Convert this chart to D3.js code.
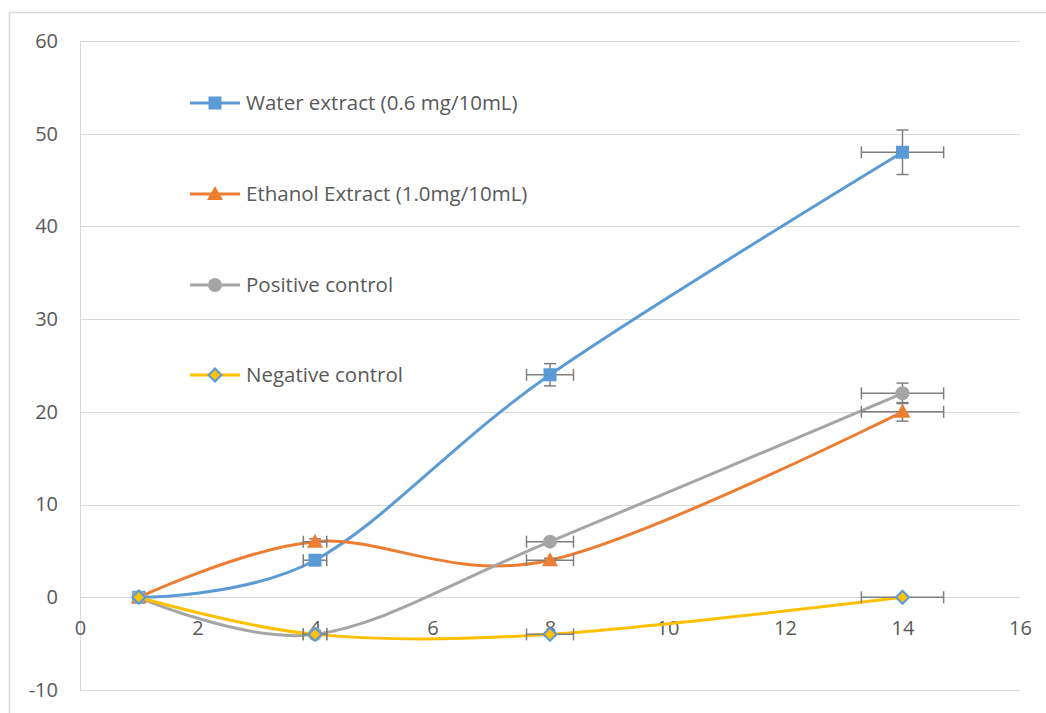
<!DOCTYPE html>
<html>
<head>
<meta charset="utf-8">
<script src="https://cdn.jsdelivr.net/npm/d3@7"></script>
<style>
  html, body { margin: 0; padding: 0; background: #fff; }
  svg { display: block; font-family: "Open Sans", Lato, sans-serif; }
</style>
</head>
<body>
<svg id="chart" width="1046" height="713"></svg>
<script>
// Sampling days (x) and measured values for each treatment
const days = [1, 4, 8, 14];
const waterExtract = [0, 4, 24, 48];
const ethanolExtract = [0, 6, 4, 20];
const positiveControl = [0, -4, 6, 22];
const negativeControl = [0, -4, -4, 0];

const seriesNames = [
  "Water extract (0.6 mg/10mL)",
  "Ethanol Extract (1.0mg/10mL)",
  "Positive control",
  "Negative control"
];
const xTicks = [0, 2, 4, 6, 8, 10, 12, 14, 16];
const yTicks = [-10, 0, 10, 20, 30, 40, 50, 60];
const errorPct = 0.05; // 5% error bars in both directions

const svg = d3.select("#chart");
const W = 1046, H = 713;
const fontFamily = "'Open Sans', Lato, sans-serif";

// outer chart frame
svg.append("rect")
  .attr("x", 9.5).attr("y", 12.5)
  .attr("width", W).attr("height", H)
  .attr("fill", "none").attr("stroke", "#d9d9d9").attr("stroke-width", 1.5);

const plot = { left: 80, right: 1020, top: 41, bottom: 690 };
const x = d3.scaleLinear().domain([0, 16]).range([plot.left, plot.right]);
const y = d3.scaleLinear().domain([-10, 60]).range([plot.bottom, plot.top]);

const textColor = "#595959";
const gridColor = "#d9d9d9";

// horizontal gridlines
svg.append("g").selectAll("line").data(yTicks).join("line")
  .attr("x1", plot.left).attr("x2", plot.right)
  .attr("y1", d => Math.round(y(d)) + 0.5).attr("y2", d => Math.round(y(d)) + 0.5)
  .attr("stroke", gridColor).attr("stroke-width", 1);

// vertical axis line
svg.append("line")
  .attr("x1", plot.left + 0.5).attr("x2", plot.left + 0.5)
  .attr("y1", plot.top).attr("y2", plot.bottom)
  .attr("stroke", gridColor).attr("stroke-width", 1);

// y-axis labels
const yAxis = d3.axisLeft(y).tickValues(yTicks).tickFormat(d => String(d)).tickSize(0).tickPadding(22);
const gy = svg.append("g").attr("transform", `translate(${plot.left},0)`).call(yAxis);
gy.select(".domain").remove();
gy.selectAll("text").attr("fill", textColor).style("font-size", "20px")
  .style("font-family", fontFamily);

// x-axis labels, drawn along the zero line
const xAxis = d3.axisBottom(x).tickValues(xTicks).tickFormat(d => String(d)).tickSize(0).tickPadding(24);
const gx = svg.append("g").attr("transform", `translate(0,${y(0)})`).call(xAxis);
gx.select(".domain").remove();
gx.selectAll("text").attr("fill", textColor).style("font-size", "20px")
  .style("font-family", fontFamily);

const series = [
  { name: seriesNames[0], values: waterExtract, color: "#5b9bd5", marker: "square" },
  { name: seriesNames[1], values: ethanolExtract, color: "#ed7d31", marker: "triangle" },
  { name: seriesNames[2], values: positiveControl, color: "#a5a5a5", marker: "circle" },
  { name: seriesNames[3], values: negativeControl, color: "#ffc000", marker: "diamond" }
];

const line = d3.line()
  .x(d => x(d[0])).y(d => y(d[1]))
  .curve(d3.curveCardinal.tension(0));

function drawMarker(g, type, cx, cy, color) {
  if (type === "square") {
    g.append("rect").attr("x", cx - 6.5).attr("y", cy - 6.5)
      .attr("width", 13).attr("height", 13).attr("fill", color);
  } else if (type === "triangle") {
    g.append("path")
      .attr("d", `M${cx},${cy - 8}L${cx + 8},${cy + 6}L${cx - 8},${cy + 6}Z`)
      .attr("fill", color);
  } else if (type === "circle") {
    g.append("circle").attr("cx", cx).attr("cy", cy).attr("r", 7).attr("fill", color);
  } else if (type === "diamond") {
    g.append("path")
      .attr("d", `M${cx},${cy - 6.5}L${cx + 6.5},${cy}L${cx},${cy + 6.5}L${cx - 6.5},${cy}Z`)
      .attr("fill", "#ffc000").attr("stroke", "#5b9bd5").attr("stroke-width", 2);
  }
}

// lines
series.forEach(s => {
  const pts = days.map((d, i) => [d, s.values[i]]);
  svg.append("path").datum(pts)
    .attr("d", line)
    .attr("fill", "none").attr("stroke", s.color)
    .attr("stroke-width", 3).attr("stroke-linecap", "round");
});

// error bars
const errColor = "#7f7f7f";
const cap = 6;
series.forEach(s => {
  const g = svg.append("g").attr("stroke", errColor).attr("stroke-width", 1.5).attr("fill", "none");
  days.forEach((d, i) => {
    const v = s.values[i];
    const ex = Math.abs(d) * errorPct, ey = Math.abs(v) * errorPct;
    const cx = x(d), cy = y(v);
    const x0 = x(d - ex), x1 = x(d + ex);
    const y0 = y(v - ey), y1 = y(v + ey);
    g.append("line").attr("x1", x0).attr("x2", x1).attr("y1", cy).attr("y2", cy);
    g.append("line").attr("x1", x0).attr("x2", x0).attr("y1", cy - cap).attr("y2", cy + cap);
    g.append("line").attr("x1", x1).attr("x2", x1).attr("y1", cy - cap).attr("y2", cy + cap);
    if (ey > 0) {
      g.append("line").attr("x1", cx).attr("x2", cx).attr("y1", y0).attr("y2", y1);
      g.append("line").attr("x1", cx - cap).attr("x2", cx + cap).attr("y1", y0).attr("y2", y0);
      g.append("line").attr("x1", cx - cap).attr("x2", cx + cap).attr("y1", y1).attr("y2", y1);
    }
  });
});

// markers
series.forEach(s => {
  const g = svg.append("g");
  days.forEach((d, i) => drawMarker(g, s.marker, x(d), y(s.values[i]), s.color));
});

// legend
const legendRows = [103, 194, 285, 375];
series.forEach((s, i) => {
  const g = svg.append("g");
  const ly = legendRows[i];
  g.append("line").attr("x1", 190).attr("x2", 240).attr("y1", ly).attr("y2", ly)
    .attr("stroke", s.color).attr("stroke-width", 3);
  drawMarker(g, s.marker, 215, ly, s.color);
  g.append("text").attr("x", 246).attr("y", ly).attr("dy", "0.36em")
    .attr("fill", textColor).style("font-size", "20.5px").style("font-family", fontFamily)
    .text(s.name);
});
</script>
</body>
</html>
